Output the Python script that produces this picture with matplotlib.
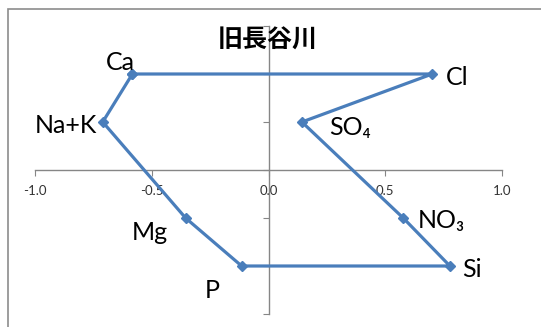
import matplotlib
matplotlib.use("Agg")
import matplotlib.pyplot as plt
from matplotlib.patches import Rectangle

# hexadiagram values (left: cations, right: anions)
rows = [2, 1, -1, -2]
cation_names = ["Ca", "Na+K", "Mg", "P"]
cation_vals = [-0.583, -0.71, -0.355, -0.115]
anion_names = ["Cl", "SO₄", "NO₃", "Si"]
anion_vals = [0.701, 0.143, 0.577, 0.777]
title = "旧長谷川"
xticks = [-1.0, -0.5, 0.0, 0.5, 1.0]

W, H = 541, 327
fig = plt.figure(figsize=(W / 100, H / 100), dpi=100)
# outer chart frame (only top and left edges visible)
fig.patches.append(Rectangle((8 / W, -0.2), 1.2, 1.2 - 9 / H, transform=fig.transFigure,
                             fill=False, edgecolor="#8c8c8c", linewidth=1.2))

ax = fig.add_axes([35 / W, 1 - 314 / H, 467 / W, 288 / H])
ax.set_xlim(-1, 1)
ax.set_ylim(-3, 3)

# closed polygon: Ca -> Cl -> SO4 -> NO3 -> Si -> P -> Mg -> Na+K -> Ca
xs = [cation_vals[0]] + anion_vals + cation_vals[::-1]
ys = [rows[0]] + rows + rows[::-1]
ax.plot(xs, ys, color="#4a7ebb", lw=2.3, marker="D", ms=5.5, zorder=3, clip_on=False)

for s in ["top", "right"]:
    ax.spines[s].set_visible(False)
ax.spines["left"].set_position(("data", 0))
ax.spines["bottom"].set_position(("data", 0))
for s in ["left", "bottom"]:
    ax.spines[s].set_color("#868686")
    ax.spines[s].set_linewidth(1.0)

ax.set_xticks(xticks)
ax.set_xticklabels([f"{v:.1f}" for v in xticks])
ax.set_yticks(range(-3, 4))
ax.set_yticklabels([])
ax.tick_params(axis="x", direction="out", length=4, color="#868686",
               labelsize=9.5, labelcolor="#333333", pad=7)
ax.tick_params(axis="y", direction="out", length=4, color="#868686")
for lab in ax.get_xticklabels():
    lab.set_fontfamily(["Lato", "DejaVu Sans"])

fam = ["Lato", "DejaVu Sans"]
fs = 18

def put(px, py, txt):
    fig.text(px / W, 1 - py / H, txt, ha="center", va="baseline",
             fontsize=fs, family=fam, color="black")

# label positions (pixel centre x, baseline y)
put(120, 70, cation_names[0])
put(66, 133, cation_names[1])
put(150, 240, cation_names[2])
put(212, 298, cation_names[3])
put(457, 85, anion_names[0])
put(350, 135, anion_names[1])
put(441, 228, anion_names[2])
put(472, 277, anion_names[3])

fig.text(268 / W, 1 - 48 / H, title, ha="center", va="baseline", fontsize=18,
         fontweight="bold", family=["Noto Sans CJK JP", "DejaVu Sans"])

fig.savefig("out.png", dpi=100)
